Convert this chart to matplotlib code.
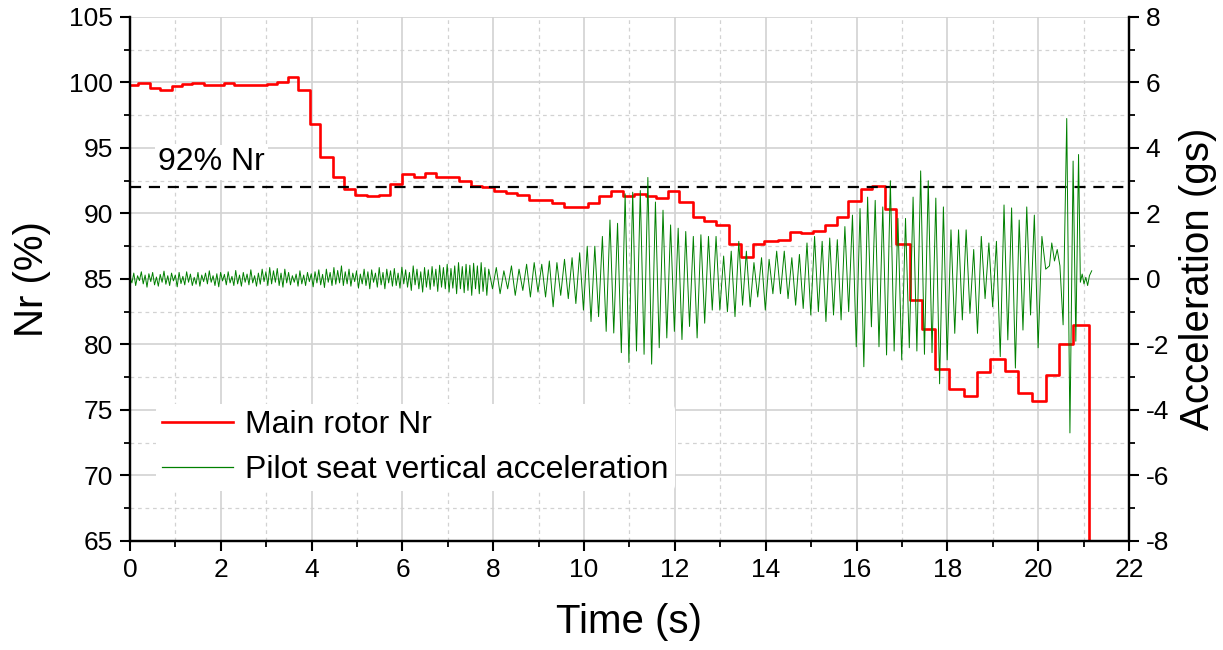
import numpy as np
import matplotlib
matplotlib.use("Agg")
import matplotlib.pyplot as plt
from matplotlib.ticker import MultipleLocator
from matplotlib.lines import Line2D

plt.rcParams['font.family'] = ['Liberation Sans', 'DejaVu Sans']
plt.rcParams['axes.unicode_minus'] = False

# main rotor Nr (%) : time where each step starts (s) and its value
nr_time = [0.0, 0.18, 0.43, 0.66, 0.92, 1.14, 1.36, 1.62, 2.06, 2.28, 2.80, 3.02,
           3.24, 3.49, 3.71, 3.97, 4.19, 4.46, 4.71, 4.96, 5.22, 5.48, 5.72, 6.00,
           6.25, 6.49, 6.73, 7.24, 7.50, 7.76, 8.02, 8.29, 8.53, 8.79, 9.30, 9.56,
           10.08, 10.33, 10.59, 10.85, 11.11, 11.36, 11.58, 11.84, 12.10, 12.39,
           12.65, 12.91, 13.20, 13.46, 13.72, 13.97, 14.27, 14.53, 14.78, 15.04,
           15.30, 15.56, 15.81, 16.09, 16.34, 16.62, 16.88, 17.17, 17.45, 17.73,
           18.04, 18.37, 18.66, 18.94, 19.26, 19.55, 19.87, 20.18, 20.47, 20.76, 21.13]
nr_value = [99.8, 99.95, 99.6, 99.4, 99.7, 99.85, 99.95, 99.8, 99.95, 99.8, 99.8, 99.9,
            100.05, 100.4, 99.4, 96.8, 94.3, 92.8, 91.9, 91.4, 91.3, 91.4, 92.25, 93.0,
            92.8, 93.1, 92.8, 92.5, 92.1, 92.0, 91.7, 91.6, 91.4, 91.0, 90.8, 90.5,
            90.8, 91.3, 91.75, 91.3, 91.5, 91.3, 91.2, 91.7, 90.9, 89.7,
            89.4, 89.1, 87.65, 86.7, 87.65, 87.9, 88.0, 88.6, 88.5, 88.7,
            89.1, 89.75, 90.95, 91.85, 92.1, 90.35, 87.7, 83.4, 81.15, 78.15,
            76.6, 76.1, 77.9, 78.9, 78.0, 76.3, 75.7, 77.65, 80.0, 81.5, 62.0]

# pilot seat acceleration (g) - quiet part, 0 to 7.9 s
quiet_acc = [0.05, -0.12, 0.18, -0.2, 0.1, -0.05, 0.22, -0.15, 0.12, -0.25, 0.16, -0.08, 0.2, -0.18, 0.06, -0.22, 0.14, -0.1, 0.24, -0.16,
             0.1, -0.2, 0.18, -0.06, 0.12, -0.24, 0.2, -0.14, 0.08, -0.18, 0.22, -0.1, 0.15, -0.2, 0.05, -0.16, 0.2, -0.22, 0.12, -0.08,
             0.18, -0.15, 0.25, -0.1, 0.1, -0.2, 0.16, -0.24, 0.2, -0.06, 0.14, -0.18, 0.22, -0.12, 0.08, -0.2, 0.26, -0.15, 0.12, -0.22,
             0.2, -0.1, 0.15, -0.18, 0.28, -0.12, 0.1, -0.22, 0.18, -0.16, 0.3, -0.08, 0.22, -0.2, 0.35, -0.15, 0.25, -0.1, 0.32, -0.2,
             0.18, -0.25, 0.3, -0.12, 0.2, -0.18, 0.1, -0.1, 0.15, -0.22, 0.25, -0.15, 0.12, -0.2, 0.2, -0.08, 0.16, -0.24, 0.22, -0.12,
             0.28, -0.18, 0.14, -0.26, 0.3, -0.1, 0.2, -0.2, 0.35, -0.16, 0.26, -0.12, 0.4, -0.2, 0.22, -0.15, 0.3, -0.22, 0.18, -0.08,
             0.25, -0.28, 0.15, -0.15, 0.3, -0.2, 0.22, -0.3, 0.28, -0.1, 0.18, -0.25, 0.35, -0.18, 0.2, -0.3, 0.3, -0.12, 0.25, -0.22,
             0.32, -0.2, 0.18, -0.28, 0.36, -0.15, 0.28, -0.25, 0.2, -0.35, 0.4, -0.18, 0.3, -0.3, 0.22, -0.4, 0.35, -0.25, 0.28, -0.32,
             0.38, -0.22, 0.3, -0.38, 0.42, -0.25, 0.35, -0.3, 0.45, -0.4, 0.32, -0.28, 0.4, -0.45, 0.5, -0.3, 0.38, -0.42, 0.45, -0.35,
             0.42, -0.5, 0.48, -0.3, 0.4, -0.45, 0.5, -0.38, 0.35, -0.5]

# oscillation 7.9 - 20.25 s, one peak + one trough per cycle
osc_peaks = [0.3, 0.35, 0.25, 0.4, 0.3, 0.45,
             0.5, 0.45, 0.55, 0.5, 0.6, 0.65,
             0.8, 1.0, 1.0, 1.3, 1.8, 1.7,
             2.6, 2.65, 2.7, 3.1, 2.35, 2.1,
             1.65, 1.55, 1.45, 1.3, 1.35, 1.3,
             1.3, 0.7, 0.85, 1.15, 0.85, 0.5,
             0.65, 0.6, 0.85, 0.85, 0.65, 0.75,
             1.1, 1.3, 1.15, 1.25, 1.2, 1.6,
             1.95, 2.15, 2.5, 2.4, 2.2, 3.0,
             1.85, 1.85, 2.5, 3.3, 3.0, 2.47,
             2.2, 1.5, 1.5, 1.5, 0.9, 1.3,
             1.1, 1.15, 2.26, 2.17, 1.8, 2.2,
             1.95, 1.3]
osc_troughs = [-0.3, -0.45, -0.3, -0.5, -0.35, -0.55,
               -0.4, -0.55, -0.85, -0.5, -0.6, -0.75,
               -0.95, -1.3, -1.15, -1.6, -1.65, -2.25,
               -2.55, -2.2, -2.3, -2.6, -2.1, -1.8,
               -1.6, -1.85, -1.45, -1.8, -1.35, -0.95,
               -0.95, -1.0, -1.15, -0.8, -0.85, -0.55,
               -0.95, -0.45, -0.45, -0.6, -0.8, -0.9,
               -1.1, -1.0, -1.3, -1.1, -1.25, -1.0,
               -2.07, -2.68, -1.46, -2.07, -2.32, -2.2,
               -2.47, -2.1, -2.2, -2.3, -2.25, -3.2,
               -2.47, -1.66, -1.25, -1.05, -1.66, -0.6,
               -0.85, -2.37, -1.86, -2.72, -1.56, -1.1,
               -2.1, 0.3]

# last part with the big spikes
end_time = [20.25, 20.30, 20.36, 20.42, 20.48, 20.55, 20.63, 20.70, 20.77, 20.83,
            20.89, 20.93, 20.97, 21.01, 21.05, 21.09, 21.13, 21.18]
end_acc = [0.4, 1.1, 0.55, 0.9, 0.4, -1.4, 4.9, -4.7, 3.6, -1.9,
           3.8, -0.1, 0.15, -0.15, 0.05, -0.2, 0.1, 0.25]


# put the acceleration pieces together on one time axis
quiet_t = np.linspace(0.0, 7.9, len(quiet_acc), endpoint=False)
period = (20.25 - 7.9) / len(osc_peaks)
osc_t = []
osc_v = []
for i in range(len(osc_peaks)):
    osc_t += [7.9 + i * period, 7.9 + (i + 0.5) * period]
    osc_v += [osc_peaks[i], osc_troughs[i]]
acc_t = np.concatenate([quiet_t, osc_t, end_time])
acc_v = np.concatenate([quiet_acc, osc_v, end_acc])

fig = plt.figure(figsize=(12.23, 6.5), dpi=100)
ax1 = fig.add_axes([0.1063, 0.1677, 0.8168, 0.8062])
ax2 = ax1.twinx()

# grid
ax1.xaxis.set_major_locator(MultipleLocator(2))
ax1.xaxis.set_minor_locator(MultipleLocator(1))
ax1.yaxis.set_major_locator(MultipleLocator(5))
ax1.yaxis.set_minor_locator(MultipleLocator(2.5))
ax1.grid(which='major', color='#d2d2d2', lw=1.2, ls='-')
ax1.grid(which='minor', color='#d2d2d2', lw=0.9, ls=(0, (3, 3)))
ax1.set_axisbelow(True)

# Nr step line and 92% reference
ax1.step(nr_time, nr_value, where='post', color='#ff0000', lw=1.9)
ax1.axhline(92, color='black', lw=1.6, ls=(0, (5, 3.5)))
ax1.text(0.62, 93.9, '92% Nr', fontsize=23, ha='left', va='center',
         bbox=dict(facecolor='white', edgecolor='none', pad=2))

# acceleration
ax2.plot(acc_t, acc_v, color='#008000', lw=0.7)

ax1.set_xlim(0, 22)
ax1.set_ylim(65, 105)
ax2.set_ylim(-8, 8)
ax2.yaxis.set_major_locator(MultipleLocator(2))
ax2.yaxis.set_minor_locator(MultipleLocator(1))

for ax in (ax1, ax2):
    ax.spines['top'].set_visible(False)
    for s in ('left', 'right', 'bottom'):
        ax.spines[s].set_linewidth(1.6)
    ax.tick_params(which='major', direction='out', length=7, width=1.5, labelsize=19)
    ax.tick_params(which='minor', direction='out', length=4, width=1.3)
ax1.tick_params(axis='y', pad=5)
ax1.tick_params(axis='x', pad=5)
ax2.tick_params(axis='y', pad=5)

ax1.set_xlabel('Time (s)', fontsize=29)
ax1.set_ylabel('Nr (%)', fontsize=29)
ax2.set_ylabel('Acceleration (gs)', fontsize=29)
ax1.xaxis.set_label_coords(0.5, -0.118)
ax1.yaxis.set_label_coords(-0.079, 0.5)
ax2.yaxis.set_label_coords(1.050, 0.5)

# legend
handles = [Line2D([], [], color='#ff0000', lw=1.9),
           Line2D([], [], color='#008000', lw=0.9)]
ax2.legend(handles, ['Main rotor Nr', 'Pilot seat vertical acceleration'],
           loc='lower left', bbox_to_anchor=(0.026, 0.095), borderaxespad=0,
           fontsize=23, frameon=True, facecolor='white', edgecolor='none',
           framealpha=1, handlelength=2.2, handletextpad=0.4,
           labelspacing=0.45, borderpad=0.2)

fig.savefig('out.png', dpi=100)
